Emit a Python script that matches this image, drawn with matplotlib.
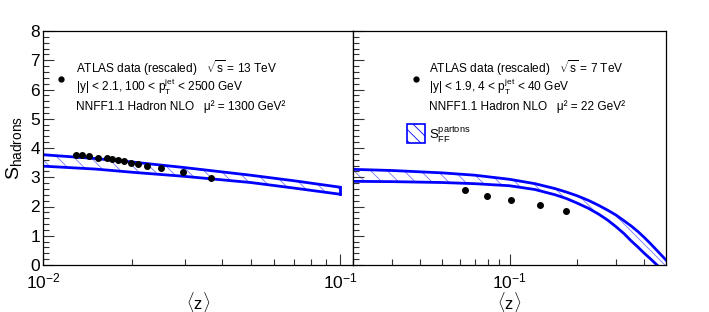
import matplotlib.pyplot as plt
import matplotlib.ticker as mticker
import numpy as np

plt.rcParams['font.family'] = ['Liberation Sans', 'DejaVu Sans']
plt.rcParams['mathtext.fontset'] = 'custom'
plt.rcParams['mathtext.rm'] = 'Liberation Sans'
plt.rcParams['mathtext.it'] = 'Liberation Sans:italic'
plt.rcParams['hatch.linewidth'] = 0.6

# 13 TeV (left panel)
z13 = [0.0129, 0.01352, 0.01427, 0.0153, 0.0164, 0.01704, 0.01785, 0.0187,
       0.01974, 0.02084, 0.02234, 0.02489, 0.02951, 0.0369]
s13 = [3.76, 3.75, 3.74, 3.67, 3.66, 3.62, 3.59, 3.56, 3.50, 3.45, 3.40, 3.32, 3.19, 2.97]
e13 = [0.02] * 13 + [0.07]
band13_z = [0.01, 0.015, 0.02, 0.03, 0.05, 0.07, 0.1]
band13_hi = [3.77, 3.64, 3.52, 3.33, 3.07, 2.88, 2.66]
band13_lo = [3.38, 3.28, 3.17, 3.03, 2.82, 2.63, 2.42]

# 7 TeV (right panel)
z7 = [0.0633, 0.0793, 0.1019, 0.1368, 0.1787]
s7 = [2.56, 2.37, 2.22, 2.05, 1.85]
band7_z = [0.02, 0.03, 0.05, 0.07, 0.1, 0.13, 0.16, 0.18, 0.2, 0.225, 0.25, 0.275,
           0.3, 0.325, 0.35, 0.375, 0.4, 0.425, 0.45, 0.475, 0.5]
band7_hi = [3.27, 3.23, 3.15, 3.07, 2.93, 2.78, 2.61, 2.49, 2.37, 2.21, 2.04, 1.87,
            1.70, 1.51, 1.33, 1.14, 0.94, 0.74, 0.54, 0.35, 0.17]
band7_lo = [2.86, 2.85, 2.82, 2.78, 2.71, 2.58, 2.40, 2.27, 2.12, 1.94, 1.74, 1.53,
            1.30, 1.07, 0.82, 0.61, 0.40, 0.22, 0.04, -0.13, -0.3]

blue = '#0000ff'
hatch_col = '#7777ff'

fig = plt.figure(figsize=(7.09, 3.12), dpi=100)
axL = fig.add_axes([43 / 709, 47 / 312, 310 / 709, 234 / 312])
axR = fig.add_axes([353 / 709, 47 / 312, 313 / 709, 234 / 312])


def style(ax, xlim, ylabels):
    ax.set_xscale('log')
    ax.set_xlim(*xlim)
    ax.set_ylim(0, 8)
    ax.yaxis.set_major_locator(mticker.MultipleLocator(1))
    ax.yaxis.set_minor_locator(mticker.MultipleLocator(0.2))
    ax.xaxis.set_major_locator(mticker.LogLocator(base=10))
    ax.xaxis.set_minor_locator(mticker.LogLocator(base=10, subs=np.arange(2, 10)))
    ax.xaxis.set_minor_formatter(mticker.NullFormatter())
    ax.tick_params(which='both', direction='in', top=False, right=False,
                   labelsize=12.5, width=0.8, color='#333333')
    ax.tick_params(which='major', length=8)
    ax.tick_params(which='minor', length=4)
    ax.tick_params(axis='x', pad=5)
    ax.tick_params(axis='y', pad=2)
    if not ylabels:
        ax.tick_params(axis='y', labelleft=False)
    for sp in ax.spines.values():
        sp.set_linewidth(0.9)
    ax.set_xlabel(r'$\langle\mathrm{z}\rangle$', fontsize=12)
    ax.xaxis.set_label_coords(0.5, -0.108)


style(axL, (0.01, 0.1106), True)
style(axR, (0.02, 0.5), False)
axL.set_ylabel(r'$\mathrm{S_{hadrons}}$', fontsize=14)
axL.yaxis.set_label_coords(-19 / 310, 0.5)

# bands
axL.fill_between(band13_z, band13_lo, band13_hi, facecolor='none',
                 edgecolor=hatch_col, hatch='\\\\', linewidth=0)
axL.plot(band13_z, band13_hi, color=blue, lw=2)
axL.plot(band13_z, band13_lo, color=blue, lw=2)
axL.plot([band13_z[-1], band13_z[-1]], [band13_lo[-1], band13_hi[-1]], color=blue, lw=2)

axR.fill_between(band7_z, band7_lo, band7_hi, facecolor='none',
                 edgecolor=hatch_col, hatch='\\\\', linewidth=0)
axR.plot(band7_z, band7_hi, color=blue, lw=2)
axR.plot(band7_z, band7_lo, color=blue, lw=2)

# data
axL.errorbar(z13, s13, yerr=e13, fmt='o', color='black', ms=4, elinewidth=1, capsize=0)
axR.errorbar(z7, s7, fmt='o', color='black', ms=4)

# legend text
fs = 8.6
for ax, x0, lines, mx in [
    (axL, 0.106, [r'ATLAS data (rescaled)   $\sqrt{\mathrm{s}}$ = 13 TeV',
                  r'|y| < 2.1, 100 < $\mathrm{p_T^{jet}}$ < 2500 GeV',
                  'NNFF1.1 Hadron NLO   μ² = 1300 GeV²'], 0.058),
    (axR, 0.243, [r'ATLAS data (rescaled)   $\sqrt{\mathrm{s}}$ = 7 TeV',
                  r'|y| < 1.9, 4 < $\mathrm{p_T^{jet}}$ < 40 GeV',
                  'NNFF1.1 Hadron NLO   μ² = 22 GeV²'], 0.201)]:
    for txt, yy in zip(lines, [0.842, 0.761, 0.679]):
        ax.text(x0, yy, txt, transform=ax.transAxes, fontsize=fs, va='center', ha='left')
    ax.plot([mx], [0.795], 'o', color='black', ms=3.5, transform=ax.transAxes, clip_on=False)

box = plt.Rectangle((0.173, 0.521), 0.057, 0.082, transform=axR.transAxes,
                    facecolor='none', edgecolor=blue, lw=1.2, hatch='\\\\\\')
axR.add_patch(box)
plt.rcParams['hatch.color'] = hatch_col
axR.text(0.243, 0.556, r'$\mathrm{S_{FF}^{partons}}$', transform=axR.transAxes,
         fontsize=9.5, va='center', ha='left')

fig.savefig('out.png', dpi=100)
